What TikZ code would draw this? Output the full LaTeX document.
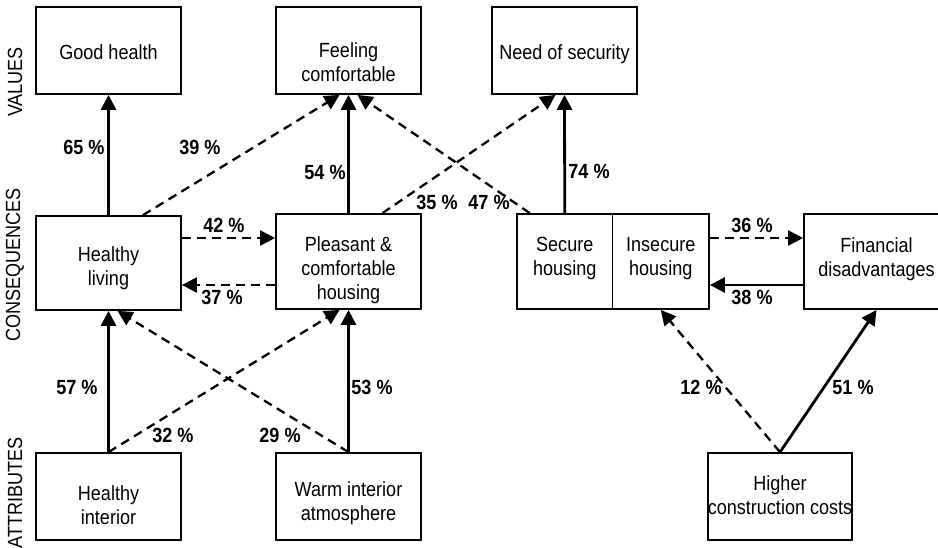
\documentclass[tikz,border=0pt]{standalone}
\usepackage{fontspec}
\setmainfont{Liberation Sans}[FakeStretch=0.88]
\usetikzlibrary{arrows.meta}

\tikzset{
  box/.style={draw, line width=1.8pt, inner sep=0pt, align=center,
    minimum width=145pt, minimum height=87pt},
  txt/.style={text height=#1, text depth=4.2pt},
  pct/.style={font=\fontsize{20.5}{24}\selectfont\bfseries, inner sep=0pt},
  lvl/.style={rotate=90, inner sep=0pt},
  link/.style={line width=2.8pt, -{Triangle[length=15pt,width=15pt]}},
  dlink/.style={line width=2.3pt, dash pattern=on 9pt off 6pt,
    -{Triangle[length=15pt,width=15pt]}}
}

\begin{document}
\begin{tikzpicture}[x=1pt,y=-1pt,every node/.style={font=\fontsize{20.5}{24}\selectfont}]
\useasboundingbox (0,0) rectangle (938,547);
\node [lvl] (values) at (15,82) {VALUES};
\node [lvl] (conseq) at (15,265) {CONSEQUENCES};
\node [lvl] (attrib) at (15,493) {ATTRIBUTES};
% values
\node [box, txt=23pt] (goodhealth) at (108.5,50.5) {Good health};
\node [box, txt=66pt] (feeling) at (348.5,50.5) {Feeling\\comfortable};
\node [box, txt=23pt] (security) at (564.5,50.5) {Need of security};
% consequences
\node [box, txt=50pt, minimum height=94pt] (healthyliving) at (108.5,263) {Healthy\\living};
\node [box, txt=81pt, minimum height=95pt] (pleasant) at (348.5,261.5) {Pleasant \&\\comfortable\\housing};
\node [box, txt=32pt, minimum width=95.5pt, minimum height=95pt] (secure) at (564.75,261.5) {Secure\\housing};
\node [box, txt=32pt, minimum width=96.5pt, minimum height=95pt] (insecure) at (660.75,261.5) {Insecure\\housing};
\node [box, txt=34pt, minimum height=95pt] (financial) at (876.5,261.5) {Financial\\disadvantages};
% attributes
\node [box, txt=60pt] (healthyinterior) at (108.5,496.5) {Healthy\\interior};
\node [box, txt=52pt] (warm) at (348.5,496.5) {Warm interior\\atmosphere};
\node [box, txt=40pt, minimum width=144pt] (higher) at (780,496.5) {Higher\\construction costs};
% links to values
\draw [link] (healthyliving.north) -- (goodhealth.south);
\draw [dlink] ([xshift=34.5pt]healthyliving.north) -- ([xshift=-9pt]feeling.south);
\draw [link] (pleasant.north) -- (feeling.south);
\draw [dlink] ([xshift=-35pt]secure.north) -- ([xshift=9pt]feeling.south);
\draw [dlink] ([xshift=34pt]pleasant.north) -- ([xshift=-9pt]security.south);
\draw [link] (secure.north) -- (security.south);
% links between consequences
\coordinate (a42) at ([yshift=25pt]healthyliving.east);
\coordinate (a37) at ([yshift=-23.5pt]pleasant.west);
\coordinate (a36) at ([yshift=23.5pt]insecure.east);
\coordinate (a38) at ([yshift=-23.5pt]financial.west);
\draw [dlink] (a42) -- (a42 -| pleasant.west);
\draw [dlink] (a37) -- (a37 -| healthyliving.east);
\draw [dlink] (a36) -- (a36 -| financial.west);
\draw [link] (a38) -- (a38 -| insecure.east);
% links from attributes
\draw [link] (healthyinterior.north) -- (healthyliving.south);
\draw [dlink] (healthyinterior.north) -- ([xshift=-9pt]pleasant.south);
\draw [dlink] (warm.north) -- ([xshift=9pt]healthyliving.south);
\draw [link] (warm.north) -- (pleasant.south);
\draw [dlink] (higher.north) -- (insecure.south);
\draw [link] (higher.north) -- (financial.south);
% percentages
\node [pct] (p65) at (84,147) {65 \%};
\node [pct] (p39) at (200,147) {39 \%};
\node [pct] (p54) at (325,172) {54 \%};
\node [pct] (p35) at (437,202) {35 \%};
\node [pct] (p47) at (489,202) {47 \%};
\node [pct] (p74) at (589,171) {74 \%};
\node [pct] (p42) at (224,225) {42 \%};
\node [pct] (p37) at (222,297) {37 \%};
\node [pct] (p36) at (752,225) {36 \%};
\node [pct] (p38) at (752,297) {38 \%};
\node [pct] (p57) at (77,387) {57 \%};
\node [pct] (p32) at (173,435) {32 \%};
\node [pct] (p29) at (280,435) {29 \%};
\node [pct] (p53) at (372,387) {53 \%};
\node [pct] (p12) at (701,387) {12 \%};
\node [pct] (p51) at (853,387) {51 \%};
\end{tikzpicture}
\end{document}
